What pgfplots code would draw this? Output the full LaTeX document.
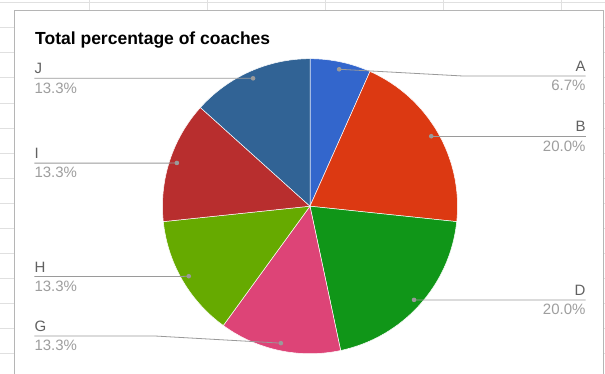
\documentclass[border=0pt]{standalone}
\usepackage{pgfplots}
\pgfplotsset{compat=1.18}
\usepackage{pgfplotstable}
\usepackage{fontspec}
\setmainfont{Liberation Sans}
\definecolor{cA}{HTML}{3366CC}
\definecolor{cB}{HTML}{DC3912}
\definecolor{cC}{HTML}{FF9900}
\definecolor{cD}{HTML}{109618}
\definecolor{cE}{HTML}{990099}
\definecolor{cF}{HTML}{0099C6}
\definecolor{cG}{HTML}{DD4477}
\definecolor{cH}{HTML}{66AA00}
\definecolor{cI}{HTML}{B82E2E}
\definecolor{cJ}{HTML}{316395}
\definecolor{namegray}{HTML}{616161}
\definecolor{pctgray}{HTML}{9E9E9E}
\definecolor{leadgray}{HTML}{9A9A9A}
\definecolor{gridgray}{HTML}{E0E0E0}
\definecolor{framegray}{HTML}{B5B5B5}
\newcommand\lblfont{\fontsize{15}{18}\selectfont}

% coaches per category; label line y (px from top), knee x, end x, side
\pgfplotstableread{
name value ly kneex endx side
A 1 76    463 585.7 east
B 3 136.2 440 585.7 east
C 0 0     0   0     east
D 3 300   420 585.7 east
E 0 0     0   0     east
F 0 0     0   0     east
G 2 336   155 34.3  west
H 2 276.5 180 34.3  west
I 2 163.1 170 34.3  west
J 2 78.3  245 34.3  west
}\coaches

\begin{document}
\begin{tikzpicture}
\pgfplotstablegetrowsof{\coaches}\pgfmathtruncatemacro\nrows{\pgfplotsretval-1}
\def\total{0}
\pgfplotsforeachungrouped \i in {0,...,\nrows}{%
  \pgfplotstablegetelem{\i}{value}\of\coaches
  \pgfmathsetmacro\total{\total+\pgfplotsretval}}
\begin{axis}[x=1pt,y=1pt,xmin=0,xmax=605,ymin=0,ymax=373,
  axis lines=none, scale only axis]
% spreadsheet background
\fill[white] (axis cs:0,0) rectangle (axis cs:605,373);
\pgfplotsinvokeforeach{88.7,207,325,443,561}{\draw[gridgray] (axis cs:#1,0) -- (axis cs:#1,373);}
\pgfplotsinvokeforeach{0,...,14}{\draw[gridgray] (axis cs:0,{370.3-25*#1}) -- (axis cs:605,{370.3-25*#1});}
\filldraw[fill=white,draw=framegray] (axis cs:14.5,-5) rectangle (axis cs:603,363);
% title
\node[anchor=base west, inner sep=0pt, font=\bfseries\fontsize{17.5}{20}\selectfont] at (axis cs:35,328.7) {Total percentage of coaches};
% slices
\def\cum{0}
\pgfplotsforeachungrouped \i in {0,...,\nrows}{%
  \pgfplotstablegetelem{\i}{value}\of\coaches \let\v\pgfplotsretval
  \pgfplotstablegetelem{\i}{name}\of\coaches \let\nm\pgfplotsretval
  \pgfmathtruncatemacro\nz{\v>0}%
  \ifnum\nz>0
    \pgfmathsetmacro\sa{90-360*\cum/\total}%
    \pgfmathsetmacro\ea{90-360*(\cum+\v)/\total}%
    \edef\temp{\noexpand\fill[c\nm, draw=white, line width=0.5pt] (axis cs:310,166.8) -- ++(\sa:147.5pt) arc[start angle=\sa, end angle=\ea, radius=147.5pt] -- cycle;}%
    \temp
  \fi
  \pgfmathsetmacro\cum{\cum+\v}%
}
% leaders and labels
\def\cum{0}
\pgfplotsforeachungrouped \i in {0,...,\nrows}{%
  \pgfplotstablegetelem{\i}{value}\of\coaches \let\v\pgfplotsretval
  \pgfplotstablegetelem{\i}{name}\of\coaches \let\nm\pgfplotsretval
  \pgfplotstablegetelem{\i}{ly}\of\coaches \let\ly\pgfplotsretval
  \pgfplotstablegetelem{\i}{kneex}\of\coaches \let\kx\pgfplotsretval
  \pgfplotstablegetelem{\i}{endx}\of\coaches \let\ex\pgfplotsretval
  \pgfplotstablegetelem{\i}{side}\of\coaches \let\sd\pgfplotsretval
  \pgfmathtruncatemacro\nz{\v>0}%
  \ifnum\nz>0
    \pgfmathsetmacro\ma{90-360*(\cum+\v/2)/\total}%
    \pgfmathsetmacro\dx{310+140*cos(\ma)}%
    \pgfmathsetmacro\dy{166.8+140*sin(\ma)}%
    \pgfmathsetmacro\LY{373-\ly}%
    \pgfmathsetmacro\LYa{\LY+4.5}%
    \pgfmathsetmacro\LYb{\LY-14.8}%
    \pgfmathtruncatemacro\pt{round(1000*\v/\total)}%
    \pgfmathtruncatemacro\pa{\pt/10}%
    \pgfmathtruncatemacro\pb{\pt-10*\pa}%
    \edef\temp{%
      \noexpand\draw[leadgray, line width=0.8pt] (axis cs:\dx,\dy) -- (axis cs:\kx,\LY) -- (axis cs:\ex,\LY);
      \noexpand\fill[leadgray] (axis cs:\dx,\dy) circle[radius=2.3pt];
      \noexpand\node[anchor=base \sd, inner sep=0pt, text=namegray, font=\noexpand\lblfont] at (axis cs:\ex,\LYa) {\nm};
      \noexpand\node[anchor=base \sd, inner sep=0pt, text=pctgray, font=\noexpand\lblfont] at (axis cs:\ex,\LYb) {\pa.\pb\noexpand\%};
    }%
    \temp
  \fi
  \pgfmathsetmacro\cum{\cum+\v}%
}
\end{axis}
\end{tikzpicture}
\end{document}
